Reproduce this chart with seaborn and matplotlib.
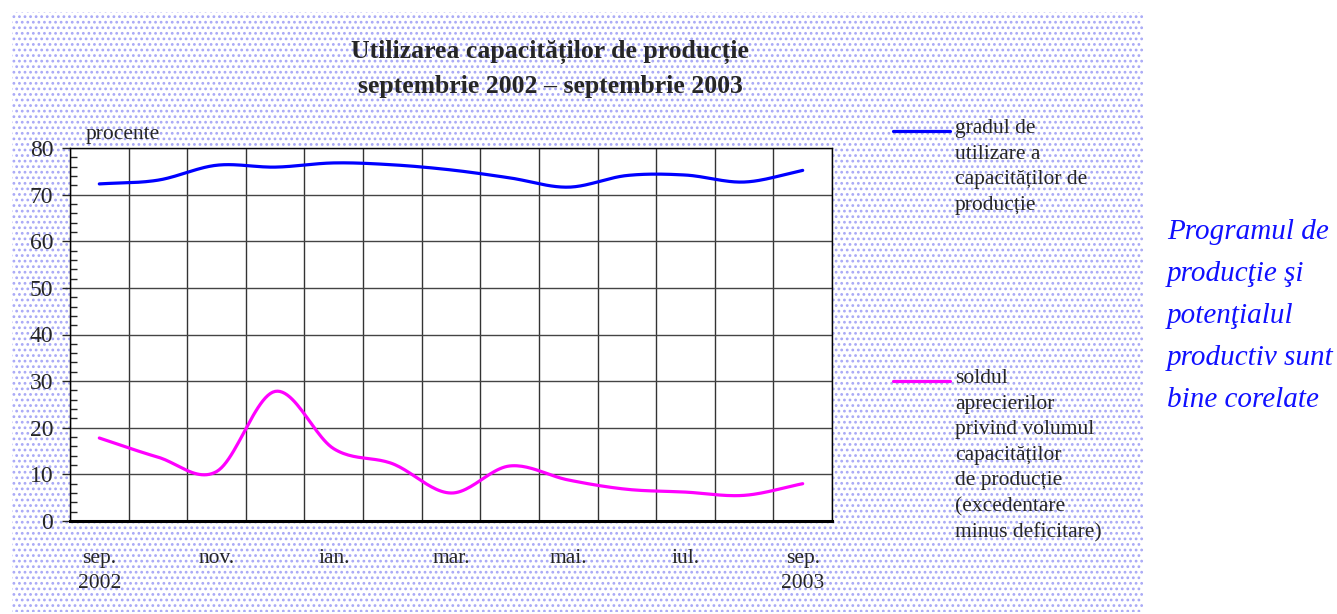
import numpy as np
import pandas as pd
import seaborn as sns
import matplotlib.pyplot as plt
from matplotlib.patches import Rectangle

# monthly data, sep 2002 - sep 2003
months = ['sep.\n2002', 'oct.', 'nov.', 'dec.', 'ian.', 'feb.', 'mar.',
          'apr.', 'mai.', 'iun.', 'iul.', 'aug.', 'sep.\n2003']
utilizare = [72.3, 73.1, 76.3, 75.9, 76.8, 76.4, 75.3, 73.6, 71.6, 74.1, 74.2, 72.7, 75.2]
sold = [17.8, 13.7, 10.6, 27.8, 15.5, 12.3, 6.0, 11.8, 8.8, 6.8, 6.2, 5.5, 8.0]
tick_labels = ['sep.\n2002', 'nov.', 'ian.', 'mar.', 'mai.', 'iul.', 'sep.\n2003']

lbl_util = 'gradul de\nutilizare a\ncapacităților de\nproducție'
lbl_sold = ('soldul\naprecierilor\nprivind volumul\ncapacităților\nde producție\n'
            '(excedentare\nminus deficitare)')


# Excel-like smoothed line (Catmull-Rom through the monthly points)
def smooth(y, n=24):
    y = np.asarray(y, dtype=float)
    p = np.concatenate([[2 * y[0] - y[1]], y, [2 * y[-1] - y[-2]]])
    xs, ys = [], []
    for i in range(len(y) - 1):
        p0, p1, p2, p3 = p[i], p[i + 1], p[i + 2], p[i + 3]
        t = np.linspace(0, 1, n, endpoint=False)
        v = 0.5 * (2 * p1 + (-p0 + p2) * t + (2 * p0 - 5 * p1 + 4 * p2 - p3) * t ** 2
                   + (-p0 + 3 * p1 - 3 * p2 + p3) * t ** 3)
        xs.extend(i + t)
        ys.extend(v)
    xs.append(len(y) - 1)
    ys.append(y[-1])
    return pd.DataFrame({'x': xs, 'y': ys})


sns.set_style('white')
plt.rcParams['font.family'] = ['Liberation Serif', 'DejaVu Serif']
plt.rcParams['hatch.linewidth'] = 1.2

fig = plt.figure(figsize=(13.37, 6.14), dpi=100)

# dotted background
bg = Rectangle((12 / 1337, 2 / 614), 1131 / 1337, 600 / 614, transform=fig.transFigure,
               facecolor='white', edgecolor='#a8a8f6', hatch='...', linewidth=0, zorder=-10)
fig.patches.append(bg)

ax = fig.add_axes([70 / 1337, 93 / 614, 762 / 1337, 373 / 614])
ax.set_facecolor('white')

d1 = smooth(utilizare)
d2 = smooth(sold)
sns.lineplot(data=d1, x='x', y='y', ax=ax, color='#0000ff', lw=2.3, sort=False, estimator=None)
sns.lineplot(data=d2, x='x', y='y', ax=ax, color='#ff00ff', lw=2.3, sort=False, estimator=None)

n = len(months)
ax.set_xlim(-0.5, n - 0.5)
ax.set_ylim(0, 80)
ax.set_xlabel('')
ax.set_ylabel('')

ax.set_xticks(np.arange(0, n, 2))
ax.set_xticklabels(tick_labels, fontsize=15.5, linespacing=1.42)
ax.set_xticks(np.arange(-0.5, n, 1), minor=True)
ax.tick_params(axis='x', which='major', length=0, pad=20)
ax.tick_params(axis='x', which='minor', length=0)
ax.grid(axis='x', which='minor', color='#333333', lw=1)

ax.set_yticks(np.arange(0, 81, 10))
ax.set_yticks(np.arange(0, 81, 2), minor=True)
ax.tick_params(axis='y', which='major', direction='out', length=6, width=1, labelsize=17, pad=6, left=True)
ax.tick_params(axis='y', which='minor', direction='in', length=5, width=1, left=True)
ax.grid(axis='y', which='major', color='#444444', lw=1)

for s in ax.spines.values():
    s.set_color('black')
    s.set_linewidth(1)
ax.spines['bottom'].set_linewidth(2.2)

ax.text(0.02, 1.01, 'procente', transform=ax.transAxes, fontsize=15.5, va='bottom', ha='left')

fig.text(550 / 1337, 1 - 52 / 614, 'Utilizarea capacităților de producție', fontsize=18.5,
         fontweight='bold', ha='center', va='center')
fig.text(550 / 1337, 1 - 87 / 614, 'septembrie 2002 – septembrie 2003', fontsize=18.5,
         fontweight='bold', ha='center', va='center')

# legend drawn by hand next to the plot
ax.plot([893 / 1337, 950 / 1337], [1 - 131 / 614] * 2, transform=fig.transFigure,
        color='#0000ff', lw=2.3, clip_on=False)
fig.text(955 / 1337, 1 - 119 / 614, lbl_util, fontsize=15.5, va='top', ha='left', linespacing=1.47)
ax.plot([893 / 1337, 950 / 1337], [1 - 381 / 614] * 2, transform=fig.transFigure,
        color='#ff00ff', lw=2.3, clip_on=False)
fig.text(955 / 1337, 1 - 369 / 614, lbl_sold, fontsize=15.5, va='top', ha='left', linespacing=1.47)

fig.text(1167 / 1337, 1 - 219 / 614,
         'Programul de\nproducţie şi\npotenţialul\nproductiv sunt\nbine corelate',
         fontsize=21, style='italic', color='#1010ff', va='top', ha='left', linespacing=1.8)

fig.savefig('out.png', dpi=100)
